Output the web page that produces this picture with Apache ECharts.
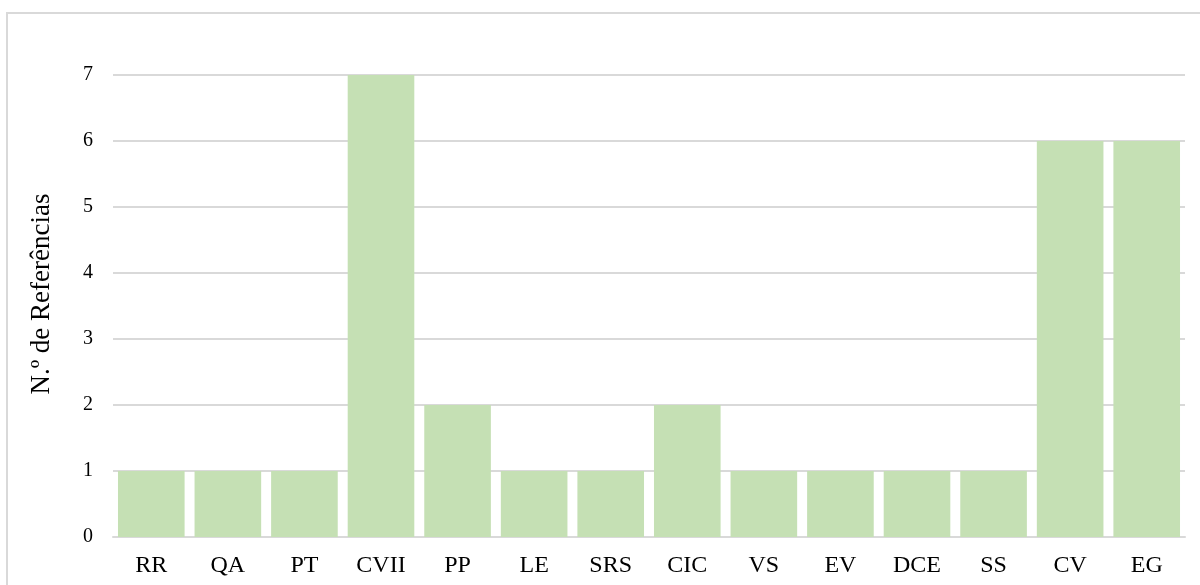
<!DOCTYPE html>
<html>
<head>
<meta charset="UTF-8">
<title>Referências</title>
<script src="https://cdn.jsdelivr.net/npm/echarts@6/dist/echarts.min.js"></script>
</head>
<body style="margin:0;">
<div id="chart" style="width:1200px;height:585px;"></div>
<script type="text/javascript">
    // categorias e valores
    var categorias = ['RR', 'QA', 'PT', 'CVII', 'PP', 'LE', 'SRS', 'CIC', 'VS', 'EV', 'DCE', 'SS', 'CV', 'EG'];
    var referencias = [1, 1, 1, 7, 2, 1, 1, 2, 1, 1, 1, 1, 6, 6];
    var ticksY = [0, 1, 2, 3, 4, 5, 6, 7];

    var fonte = '"Liberation Serif", "Times New Roman", serif';
    var chart = echarts.init(document.getElementById('chart'));

    var option = {
        animation: false,
        backgroundColor: '#fff',
        graphic: [{
            type: 'rect',
            shape: { x: 7, y: 13, width: 1200, height: 600 },
            style: { fill: 'none', stroke: '#d9d9d9', lineWidth: 2 },
            silent: true
        }],
        grid: { left: 113, right: 15, top: 75, bottom: 48 },
        xAxis: {
            type: 'category',
            data: categorias,
            axisTick: { show: false },
            axisLine: { lineStyle: { color: '#d9d9d9', width: 2 } },
            axisLabel: { color: '#000', fontFamily: fonte, fontSize: 24, margin: 17 }
        },
        yAxis: {
            type: 'value',
            min: ticksY[0],
            max: ticksY[ticksY.length - 1],
            interval: 1,
            name: 'N.º de Referências',
            nameLocation: 'middle',
            nameGap: 58,
            nameTextStyle: { color: '#000', fontFamily: fonte, fontSize: 27, padding: [0, 0, 0, 24] },
            axisLabel: { color: '#000', fontFamily: fonte, fontSize: 20, margin: 20 },
            splitLine: { lineStyle: { color: '#d9d9d9', width: 2 } }
        },
        series: [{
            name: 'Referências',
            type: 'bar',
            data: referencias,
            barCategoryGap: '13%',
            itemStyle: { color: '#C5E0B4' }
        }]
    };
    chart.setOption(option);
</script>
</body>
</html>
